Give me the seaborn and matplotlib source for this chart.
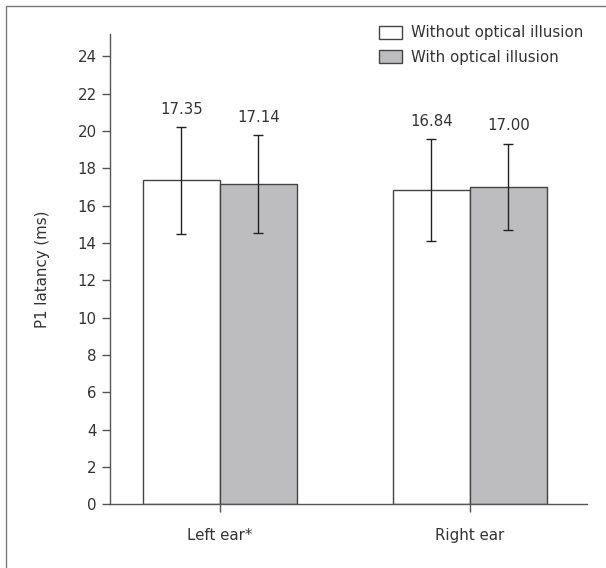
import matplotlib
matplotlib.use("Agg")
import matplotlib.pyplot as plt
from matplotlib.patches import Rectangle
import seaborn as sns
import pandas as pd

# values
ears = ["Left ear*", "Right ear"]
conditions = ["Without optical illusion", "With optical illusion"]
means_without = [17.35, 16.84]
means_with = [17.14, 17.00]
sd_without = [2.85, 2.72]
sd_with = [2.62, 2.32]
value_labels = ["17.35", "16.84", "17.14", "17.00"]
y_ticks = list(range(0, 25, 2))

df = pd.DataFrame({
    "ear": ears * 2,
    "condition": [conditions[0]] * 2 + [conditions[1]] * 2,
    "mean": means_without + means_with,
    "sd": sd_without + sd_with,
})

sns.set_theme(style="ticks")
plt.rcParams["font.family"] = ["DejaVu Sans"]
text_col = "#333333"
axis_col = "#555555"
fs = 10.8

fig = plt.figure(figsize=(6.06, 5.68), dpi=100)
ax = fig.add_axes([0.1815, 0.1121, 0.7871, 0.8273])

sns.barplot(data=df, x="ear", y="mean", hue="condition", hue_order=conditions,
            palette=["white", "#bcbdc0"], edgecolor="#444444", linewidth=1.0,
            width=0.616, errorbar=None, ax=ax)

# error bars and value labels on each bar
sds = [sd_without, sd_with]
bar_groups = list(ax.containers)
k = 0
for ci, cont in enumerate(bar_groups):
    for bi, bar in enumerate(list(cont)):
        xc = bar.get_x() + bar.get_width() / 2
        h = bar.get_height()
        sd = sds[ci][bi]
        ax.errorbar(xc, h, yerr=sd, fmt="none", ecolor="#222222",
                    elinewidth=1.0, capsize=3.5, capthick=1.0)
        ax.text(xc, h + sd + 0.95, value_labels[k], ha="center", va="center",
                fontsize=fs, color=text_col)
        k += 1

ax.set_xlim(-0.44, 1.468)
ax.set_ylim(0, 25.17)
ax.set_yticks(y_ticks)
ax.set_xlabel("")
ax.set_ylabel("P1 latancy (ms)", fontsize=fs, color=text_col, labelpad=20)
ax.tick_params(axis="both", labelsize=fs, colors=axis_col, labelcolor=text_col,
               length=6, width=1.0)
ax.tick_params(axis="x", pad=11)
sns.despine(ax=ax)
for s in ["left", "bottom"]:
    ax.spines[s].set_color(axis_col)
    ax.spines[s].set_linewidth(1.0)

leg = ax.legend(loc="upper left", bbox_to_anchor=(371 / 606, 1 - 18 / 568),
                bbox_transform=fig.transFigure, frameon=False, fontsize=fs,
                handlelength=1.55, handleheight=1.0, handletextpad=0.6,
                labelspacing=0.62, borderpad=0)
for t in leg.get_texts():
    t.set_color(text_col)

# thin frame around the figure
fig.patches.append(Rectangle((6 / 606, -0.1), 1.2, 1.1 - 6.5 / 568,
                             transform=fig.transFigure, fill=False,
                             edgecolor="#777777", linewidth=1.0))

fig.savefig("out.png", dpi=100)
